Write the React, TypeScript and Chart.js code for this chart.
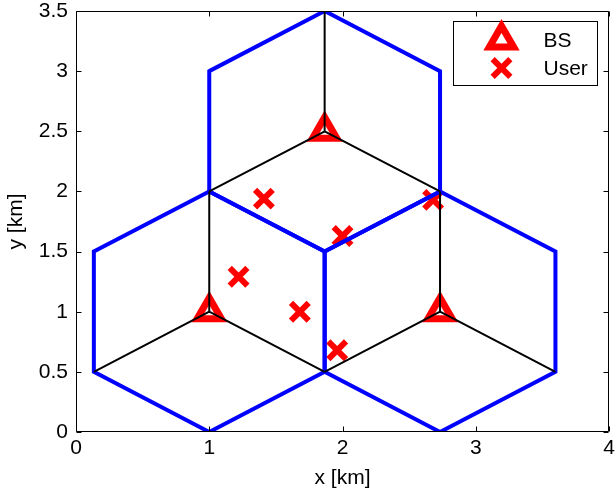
import React, { useEffect, useRef } from 'react';
import { Chart, registerables } from 'chart.js';

Chart.register(...registerables);

// ---- data (km) ----
const BS_X = [1, 2.732, 1.866];
const BS_Y = [1, 1, 2.5];
const USER_X = [1.41, 2.0, 2.68, 1.22, 1.68, 1.96];
const USER_Y = [1.94, 1.63, 1.93, 1.29, 1.0, 0.68];
const CELL_RADIUS = 1;
const X_TICKS = [0, 1, 2, 3, 4];
const Y_TICKS = [0, 0.5, 1, 1.5, 2, 2.5, 3, 3.5];
const LEGEND_LABELS = ['BS', 'User'];
const X_TITLE = 'x [km]';
const Y_TITLE = 'y [km]';

const FONT = '"Liberation Sans", Arial, Helvetica, sans-serif';
const FONT_SIZE = 21;
const RED = '#ff0000';
const BLUE = '#0000ff';
const BS_RADIUS = 14;
const BS_BORDER = 7;
const USER_RADIUS = 12.5;
const USER_BORDER = 6;

const deg = Math.PI / 180;

function hexPath(cx: number, cy: number, r: number) {
  // closed hexagon, wrapping one extra vertex so every corner is joined
  return [90, 150, 210, 270, 330, 30, 90, 150].map((a) => ({
    x: cx + r * Math.cos(a * deg),
    y: cy + r * Math.sin(a * deg),
  }));
}

function sectorPath(cx: number, cy: number, r: number) {
  const up = { x: cx + r * Math.cos(90 * deg), y: cy + r * Math.sin(90 * deg) };
  const dl = { x: cx + r * Math.cos(210 * deg), y: cy + r * Math.sin(210 * deg) };
  const dr = { x: cx + r * Math.cos(330 * deg), y: cy + r * Math.sin(330 * deg) };
  return [up, { x: cx, y: cy }, dl, { x: cx, y: null as any }, { x: cx, y: cy }, dr];
}

const framePlugin = {
  id: 'matlabFrame',
  afterDatasetsDraw(chart: any) {
    const { ctx, chartArea, scales } = chart;
    const { left, right, top, bottom } = chartArea;
    const L = Math.round(left) + 0.5;
    const R = Math.round(right) - 0.5;
    const T = Math.round(top) + 0.5;
    const B = Math.round(bottom) - 0.5;
    const TL = 5;
    ctx.save();
    ctx.strokeStyle = '#000';
    ctx.lineWidth = 1;
    ctx.beginPath();
    ctx.rect(L, T, R - L, B - T);
    X_TICKS.forEach((v) => {
      const px = Math.round(scales.x.getPixelForValue(v)) + 0.5;
      ctx.moveTo(px, B);
      ctx.lineTo(px, B - TL);
      ctx.moveTo(px, T);
      ctx.lineTo(px, T + TL);
    });
    Y_TICKS.forEach((v) => {
      const py = Math.round(scales.y.getPixelForValue(v)) + 0.5;
      ctx.moveTo(L, py);
      ctx.lineTo(L + TL, py);
      ctx.moveTo(R, py);
      ctx.lineTo(R - TL, py);
    });
    ctx.stroke();
    ctx.restore();
  },
};

const legendPlugin = {
  id: 'matlabLegend',
  afterDraw(chart: any) {
    const { ctx, chartArea } = chart;
    const x1 = Math.round(chartArea.right) - 11.5;
    const y0 = Math.round(chartArea.top) + 10.5;
    const w = 144;
    const h = 64;
    const x0 = x1 - w;
    ctx.save();
    ctx.fillStyle = '#fff';
    ctx.strokeStyle = '#000';
    ctx.lineWidth = 1;
    ctx.fillRect(x0, y0, w, h);
    ctx.strokeRect(x0, y0, w, h);

    const mx = x0 + 48;
    const rowY = [y0 + 18.5, y0 + 46.5];

    // BS triangle
    const r = BS_RADIUS;
    ctx.beginPath();
    ctx.moveTo(mx, rowY[0] - r);
    ctx.lineTo(mx + r * Math.sin(120 * deg), rowY[0] - r * Math.cos(120 * deg));
    ctx.lineTo(mx + r * Math.sin(240 * deg), rowY[0] - r * Math.cos(240 * deg));
    ctx.closePath();
    ctx.fillStyle = '#fff';
    ctx.fill();
    ctx.lineJoin = 'miter';
    ctx.lineWidth = BS_BORDER;
    ctx.strokeStyle = RED;
    ctx.stroke();

    // User cross
    const d = USER_RADIUS * Math.SQRT1_2;
    ctx.beginPath();
    ctx.moveTo(mx - d, rowY[1] - d);
    ctx.lineTo(mx + d, rowY[1] + d);
    ctx.moveTo(mx + d, rowY[1] - d);
    ctx.lineTo(mx - d, rowY[1] + d);
    ctx.lineWidth = USER_BORDER;
    ctx.lineCap = 'butt';
    ctx.stroke();

    ctx.fillStyle = '#000';
    ctx.font = `${FONT_SIZE}px ${FONT}`;
    ctx.textAlign = 'left';
    ctx.textBaseline = 'middle';
    LEGEND_LABELS.forEach((t, i) => ctx.fillText(t, x0 + 90, rowY[i] + 1));
    ctx.restore();
  },
};

export default function App() {
  const ref = useRef<HTMLCanvasElement>(null);

  useEffect(() => {
    const canvas = ref.current;
    if (!canvas) return;

    const bsData = BS_X.map((x, i) => ({ x, y: BS_Y[i] }));
    const userData = USER_X.map((x, i) => ({ x, y: USER_Y[i] }));

    const cellSets = BS_X.map((cx, i) => ({
      label: 'cell',
      data: hexPath(cx, BS_Y[i], CELL_RADIUS),
      showLine: true,
      borderColor: BLUE,
      borderWidth: 4,
      borderJoinStyle: 'miter' as const,
      pointRadius: 0,
      spanGaps: false,
      clip: 0,
      order: 1,
    }));
    const sectorSets = BS_X.map((cx, i) => ({
      label: 'sector',
      data: sectorPath(cx, BS_Y[i], CELL_RADIUS),
      showLine: true,
      borderColor: '#000',
      borderWidth: 2,
      pointRadius: 0,
      spanGaps: false,
      clip: 0,
      order: 0,
    }));

    const tickFont = { family: FONT, size: FONT_SIZE };

    const chart = new Chart(canvas, {
      type: 'scatter',
      data: {
        datasets: [
          {
            label: LEGEND_LABELS[0],
            data: bsData,
            pointStyle: 'triangle',
            pointRadius: BS_RADIUS,
            pointBorderWidth: BS_BORDER,
            pointBorderColor: RED,
            pointBackgroundColor: '#fff',
            showLine: false,
            order: 2,
          },
          {
            label: LEGEND_LABELS[1],
            data: userData,
            pointStyle: 'crossRot',
            pointRadius: USER_RADIUS,
            pointBorderWidth: USER_BORDER,
            pointBorderColor: RED,
            pointBackgroundColor: RED,
            showLine: false,
            order: 3,
          },
          ...cellSets,
          ...sectorSets,
        ] as any,
      },
      options: {
        animation: false,
        responsive: false,
        devicePixelRatio: 1,
        events: [],
        layout: { autoPadding: false, padding: { top: 11, right: 31, left: 0, bottom: 0 } },
        plugins: {
          legend: { display: false },
          tooltip: { enabled: false },
        },
        scales: {
          x: {
            type: 'linear',
            min: 0,
            max: 4,
            afterBuildTicks: (s: any) => {
              s.ticks = X_TICKS.map((v) => ({ value: v }));
            },
            afterFit: (s: any) => {
              s.height = 66;
              s.paddingLeft = 0;
              s.paddingRight = 0;
            },
            grid: { display: false, drawTicks: false },
            border: { display: false },
            ticks: {
              color: '#000',
              font: { ...tickFont, lineHeight: 1.2 },
              padding: 4,
              maxRotation: 0,
              autoSkip: false,
              callback: (v: any) => String(v),
            },
            title: {
              display: true,
              text: X_TITLE,
              color: '#000',
              font: { ...tickFont, lineHeight: 1.2 },
              padding: { top: 0, bottom: 7 },
            },
          },
          y: {
            type: 'linear',
            min: 0,
            max: 3.5,
            afterBuildTicks: (s: any) => {
              s.ticks = Y_TICKS.map((v) => ({ value: v }));
            },
            afterFit: (s: any) => {
              s.width = 76;
              s.paddingTop = 0;
              s.paddingBottom = 0;
            },
            grid: { display: false, drawTicks: false },
            border: { display: false },
            ticks: {
              color: '#000',
              font: { ...tickFont, lineHeight: 1 },
              padding: 8,
              autoSkip: false,
              callback: (v: any) => String(v),
            },
            title: {
              display: true,
              text: Y_TITLE,
              color: '#000',
              font: { ...tickFont, lineHeight: 1.2 },
              padding: { top: 4, bottom: 0 },
            },
          },
        },
      } as any,
      plugins: [framePlugin, legendPlugin],
    });

    return () => chart.destroy();
  }, []);

  return (
    <div
      style={{
        position: 'fixed',
        left: 0,
        top: 0,
        width: 616,
        height: 498,
        overflow: 'hidden',
        background: '#fff',
      }}
    >
      <canvas ref={ref} width={640} height={498} style={{ display: 'block', width: 640, height: 498 }} />
    </div>
  );
}
